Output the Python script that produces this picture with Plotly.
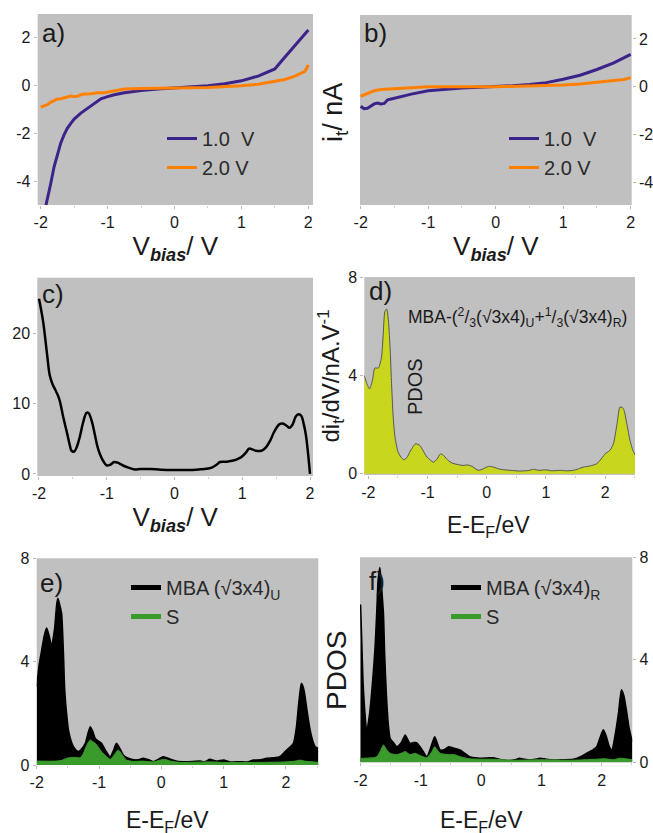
import plotly.graph_objects as go

# ---------------- data ----------------
# panel a: current vs bias
a_x_1v = [-2.0, -1.91, -1.85, -1.8, -1.75, -1.7, -1.65, -1.6, -1.55, -1.5, -1.4, -1.3, -1.2, -1.1, -1.0,
          -0.9, -0.75, -0.5, -0.25, 0.0, 0.25, 0.5, 0.75, 1.0, 1.25, 1.4, 1.5, 1.6, 1.75, 1.9, 2.0]
a_i_1v = [-6.0, -4.93, -4.1, -3.4, -2.85, -2.4, -2.05, -1.78, -1.58, -1.4, -1.15, -0.95, -0.72, -0.55, -0.46,
          -0.38, -0.3, -0.2, -0.14, -0.1, -0.06, -0.01, 0.08, 0.2, 0.4, 0.58, 0.7, 1.03, 1.52, 2.0, 2.33]
a_x_2v = [-2.0, -1.95, -1.9, -1.85, -1.8, -1.75, -1.7, -1.65, -1.6, -1.55, -1.5, -1.45, -1.4, -1.35, -1.25,
          -1.15, -1.05, -0.95, -0.85, -0.75, -0.5, -0.25, 0.0, 0.25, 0.5, 0.75, 1.0, 1.25, 1.5, 1.65, 1.8,
          1.9, 1.95, 2.0]
a_i_2v = [-0.9, -0.86, -0.8, -0.7, -0.62, -0.56, -0.55, -0.52, -0.47, -0.44, -0.46, -0.45, -0.38, -0.35, -0.34,
          -0.3, -0.3, -0.25, -0.17, -0.14, -0.12, -0.1, -0.1, -0.09, -0.08, -0.06, -0.01, 0.06, 0.17, 0.26, 0.4,
          0.54, 0.6, 0.87]

# panel b
b_x_1v = [-2.0, -1.95, -1.9, -1.85, -1.8, -1.75, -1.7, -1.65, -1.6, -1.5, -1.4, -1.25, -1.0, -0.75, -0.5,
          -0.25, 0.0, 0.25, 0.5, 0.75, 1.0, 1.25, 1.5, 1.75, 2.0]
b_i_1v = [-0.82, -0.92, -0.9, -0.8, -0.72, -0.68, -0.72, -0.7, -0.55, -0.48, -0.4, -0.31, -0.17, -0.1, -0.05,
          -0.02, 0.0, 0.04, 0.09, 0.17, 0.31, 0.48, 0.72, 1.0, 1.35]
b_x_2v = [-2.0, -1.9, -1.8, -1.7, -1.5, -1.25, -1.0, 0.0, 0.5, 1.0, 1.25, 1.5, 1.75, 1.9, 2.0]
b_i_2v = [-0.4, -0.27, -0.17, -0.12, -0.08, -0.02, 0.0, 0.0, 0.02, 0.07, 0.11, 0.17, 0.26, 0.3, 0.38]

# panel c: di/dV
c_x = [-2.0, -1.94, -1.88, -1.84, -1.8, -1.76, -1.72, -1.69, -1.64, -1.59, -1.55, -1.52, -1.48, -1.44, -1.4,
       -1.35, -1.3, -1.27, -1.22, -1.18, -1.14, -1.1, -1.05, -1.0, -0.95, -0.89, -0.84, -0.76, -0.68, -0.6,
       -0.5, -0.36, -0.2, 0.0, 0.2, 0.38, 0.47, 0.55, 0.62, 0.67, 0.77, 0.87, 0.95, 1.01, 1.06, 1.1, 1.15,
       1.2, 1.28, 1.35, 1.41, 1.46, 1.5, 1.55, 1.6, 1.65, 1.7, 1.74, 1.79, 1.83, 1.87, 1.91, 1.94, 1.97, 2.0]
c_didv = [25.0, 21.8, 17.0, 14.0, 12.8, 12.0, 11.2, 10.3, 8.0, 6.0, 4.3, 3.3, 3.2, 3.9, 5.2,
          7.3, 8.7, 8.7, 7.5, 5.8, 4.0, 2.8, 1.8, 1.2, 1.3, 1.7, 1.6, 1.2, 0.9, 0.65,
          0.7, 0.7, 0.6, 0.55, 0.55, 0.65, 0.72, 0.9, 1.3, 1.7, 1.75, 1.9, 2.2, 2.6, 3.1, 3.6, 3.5,
          3.3, 3.3, 3.8, 4.7, 5.8, 6.5, 7.1, 7.2, 6.9, 6.6, 7.0, 8.2, 8.5, 8.3, 7.0, 5.5, 3.0, 0.0]

# panel d: PDOS mixture
d_e = [-2.07, -2.03, -1.98, -1.93, -1.89, -1.83, -1.78, -1.75, -1.72, -1.69, -1.66, -1.63, -1.61, -1.58,
       -1.55, -1.5, -1.45, -1.4, -1.35, -1.3, -1.25, -1.2, -1.13, -1.07, -1.01, -0.95, -0.9, -0.84, -0.78,
       -0.73, -0.68, -0.6, -0.5, -0.4, -0.32, -0.25, -0.14, -0.06, 0.03, 0.1, 0.23, 0.4, 0.56, 0.7, 0.79,
       0.88, 1.0, 1.1, 1.24, 1.35, 1.46, 1.55, 1.63, 1.75, 1.86, 1.95, 2.0, 2.08, 2.14, 2.2, 2.25, 2.29,
       2.32, 2.37, 2.42, 2.47, 2.51]
d_pdos = [4.0, 3.7, 3.45, 3.8, 4.3, 4.3, 4.7, 5.6, 6.6, 6.7, 6.2, 5.0, 3.8, 2.3,
          1.5, 0.9, 0.68, 0.57, 0.65, 0.88, 1.08, 1.22, 1.15, 0.92, 0.68, 0.55, 0.47, 0.6, 0.81,
          0.75, 0.61, 0.45, 0.38, 0.34, 0.36, 0.3, 0.14, 0.2, 0.3, 0.28, 0.18, 0.14, 0.11, 0.13, 0.18,
          0.14, 0.16, 0.12, 0.14, 0.12, 0.14, 0.2, 0.27, 0.32, 0.41, 0.65, 0.81, 0.95, 1.22, 2.0, 2.71, 2.7,
          2.58, 2.0, 1.36, 0.95, 0.75]

# panel e: MBA (sqrt3x4)_U and S
e_e_mba = [-2.0, -1.96, -1.92, -1.88, -1.84, -1.8, -1.76, -1.73, -1.71, -1.68, -1.66, -1.63, -1.6, -1.57,
           -1.55, -1.52, -1.49, -1.45, -1.41, -1.37, -1.33, -1.28, -1.22, -1.18, -1.14, -1.1, -1.06, -1.01,
           -0.96, -0.89, -0.82, -0.77, -0.72, -0.66, -0.61, -0.55, -0.48, -0.38, -0.29, -0.2, -0.13, -0.05,
           0.03, 0.1, 0.25, 0.4, 0.62, 0.7, 0.78, 0.88, 1.0, 1.1, 1.26, 1.38, 1.48, 1.6, 1.69, 1.8, 1.9, 1.96,
           2.01, 2.07, 2.12, 2.17, 2.2, 2.23, 2.25, 2.28, 2.3, 2.34, 2.39, 2.43, 2.47, 2.52]
e_pdos_mba = [3.03, 3.9, 4.45, 5.0, 5.3, 5.0, 4.6, 5.0, 5.35, 6.2, 6.45, 6.2, 5.87, 4.3,
              2.9, 2.0, 1.35, 0.95, 0.71, 0.58, 0.52, 0.62, 0.84, 1.2, 1.48, 1.3, 1.03, 0.93,
              0.84, 0.55, 0.32, 0.55, 0.84, 0.62, 0.39, 0.28, 0.22, 0.2, 0.26, 0.2, 0.13, 0.22,
              0.32, 0.27, 0.15, 0.13, 0.15, 0.13, 0.22, 0.15, 0.19, 0.12, 0.13, 0.12, 0.19, 0.2, 0.26, 0.28, 0.32, 0.45,
              0.58, 0.7, 0.84, 1.5, 2.26, 2.9, 3.16, 3.0, 2.77, 2.1, 1.35, 0.95, 0.71, 0.65]
e_e_s = [-2.0, -1.7, -1.6, -1.52, -1.4, -1.3, -1.25, -1.2, -1.14, -1.1, -1.06, -1.0, -0.96, -0.89, -0.82,
         -0.76, -0.69, -0.63, -0.56, -0.45, -0.3, -0.13, 0.0, 0.05, 0.15, 0.3, 0.8, 1.0, 1.5, 2.0, 2.15,
         2.22, 2.3, 2.52]
e_pdos_s = [0.15, 0.15, 0.18, 0.26, 0.3, 0.28, 0.45, 0.75, 0.97, 0.9, 0.84, 0.65, 0.52, 0.35, 0.22,
            0.38, 0.58, 0.4, 0.19, 0.14, 0.15, 0.12, 0.2, 0.22, 0.15, 0.1, 0.12, 0.1, 0.1, 0.12, 0.15,
            0.19, 0.15, 0.1]

# panel f: MBA (sqrt3x4)_R and S
f_e_mba = [-2.0, -1.98, -1.96, -1.93, -1.9, -1.85, -1.8, -1.76, -1.73, -1.71, -1.68, -1.65, -1.62, -1.6,
           -1.57, -1.54, -1.51, -1.45, -1.4, -1.33, -1.26, -1.22, -1.18, -1.12, -1.07, -1.01, -0.96, -0.9,
           -0.84, -0.77, -0.72, -0.68, -0.61, -0.54, -0.45, -0.35, -0.27, -0.19, -0.1, -0.02, 0.1, 0.2, 0.3,
           0.37, 0.48, 0.56, 0.64, 0.72, 0.81, 0.9, 0.98, 1.08, 1.2, 1.35, 1.53, 1.65, 1.75, 1.85, 1.92, 1.98,
           2.03, 2.08, 2.13, 2.17, 2.22, 2.28, 2.33, 2.37, 2.42, 2.46, 2.51]
f_pdos_mba = [6.16, 4.7, 3.2, 2.0, 1.27, 1.92, 3.2, 4.5, 6.0, 7.1, 7.6, 6.8, 5.8, 4.2,
              2.57, 1.5, 0.94, 0.75, 0.61, 0.75, 1.07, 0.9, 0.74, 0.77, 0.77, 0.6, 0.42, 0.22,
              0.55, 1.0, 0.7, 0.48, 0.5, 0.61, 0.55, 0.48, 0.35, 0.22, 0.18, 0.16, 0.17, 0.18, 0.12,
              0.09, 0.07, 0.1, 0.16, 0.12, 0.09, 0.12, 0.16, 0.12, 0.09, 0.1, 0.12, 0.22, 0.35, 0.48, 0.61, 1.0,
              1.27, 1.0, 0.6, 0.48, 1.0, 1.92, 2.83, 2.6, 1.92, 1.3, 0.81]
f_e_s = [-2.0, -1.8, -1.73, -1.67, -1.62, -1.57, -1.51, -1.4, -1.3, -1.26, -1.18, -1.1, -1.0, -0.9, -0.82,
         -0.77, -0.72, -0.68, -0.55, -0.45, -0.35, -0.2, 0.0, 0.2, 0.5, 1.0, 1.5, 1.9, 2.05, 2.2, 2.3, 2.51]
f_pdos_s = [0.15, 0.18, 0.22, 0.45, 0.68, 0.5, 0.35, 0.3, 0.38, 0.42, 0.3, 0.35, 0.25, 0.18, 0.4,
            0.61, 0.45, 0.35, 0.3, 0.3, 0.22, 0.14, 0.12, 0.12, 0.08, 0.1, 0.08, 0.12, 0.14, 0.1, 0.16, 0.1]

# tick values / labels
iv_ticks = [-4, -2, 0, 2]
iv_labels = ["-4", "-2", "0", "2"]
bias_ticks = [-2, -1, 0, 1, 2]
bias_labels = ["-2", "-1", "0", "1", "2"]
didv_ticks = [0, 10, 20]
didv_labels = ["0", "10", "20"]
pdos_ticks = [0, 4, 8]
pdos_labels = ["0", "4", "8"]

# ---------------- styling / layout ----------------
W, H = 653, 833
FONT = "Liberation Sans, Arial, sans-serif"
TXT = "#1a1a1a"
BG = "#c0c0c0"
PURPLE = "#3c2389"
ORANGE = "#ff8000"
LIME = "#c8d61e"
GREEN = "#3a9a2c"


def px(x):
    return x / W


def py(y):
    return 1 - y / H


fig = go.Figure()

# a
fig.add_trace(go.Scatter(x=a_x_1v, y=a_i_1v, mode="lines", line=dict(color=PURPLE, width=3),
                         name="1.0  V", xaxis="x", yaxis="y", legend="legend"))
fig.add_trace(go.Scatter(x=a_x_2v, y=a_i_2v, mode="lines", line=dict(color=ORANGE, width=3),
                         name="2.0 V", xaxis="x", yaxis="y", legend="legend"))
# b
fig.add_trace(go.Scatter(x=b_x_1v, y=b_i_1v, mode="lines", line=dict(color=PURPLE, width=3),
                         name="1.0  V", xaxis="x2", yaxis="y2", legend="legend2"))
fig.add_trace(go.Scatter(x=b_x_2v, y=b_i_2v, mode="lines", line=dict(color=ORANGE, width=3),
                         name="2.0 V", xaxis="x2", yaxis="y2", legend="legend2"))
# c
fig.add_trace(go.Scatter(x=c_x, y=c_didv, mode="lines", line=dict(color="black", width=2.5, shape="spline"),
                         showlegend=False, xaxis="x3", yaxis="y3"))
# d
fig.add_trace(go.Scatter(x=d_e, y=d_pdos, mode="lines", fill="tozeroy", fillcolor=LIME,
                         line=dict(color="#555555", width=1, shape="spline", smoothing=0.6),
                         showlegend=False, xaxis="x4", yaxis="y4"))
# e
fig.add_trace(go.Scatter(x=e_e_mba, y=e_pdos_mba, mode="lines", fill="tozeroy", fillcolor="black",
                         line=dict(color="black", width=1.5, shape="spline", smoothing=0.6),
                         showlegend=False, xaxis="x5", yaxis="y5"))
fig.add_trace(go.Scatter(x=e_e_s, y=e_pdos_s, mode="lines", fill="tozeroy", fillcolor=GREEN,
                         line=dict(color=GREEN, width=1, shape="spline", smoothing=0.6),
                         showlegend=False, xaxis="x5", yaxis="y5"))
fig.add_trace(go.Scatter(x=[None], y=[None], mode="lines", line=dict(color="black", width=5),
                         name="MBA (√3x4)<sub>U</sub>", xaxis="x5", yaxis="y5", legend="legend3"))
fig.add_trace(go.Scatter(x=[None], y=[None], mode="lines", line=dict(color=GREEN, width=5),
                         name="S", xaxis="x5", yaxis="y5", legend="legend3"))
# f
fig.add_trace(go.Scatter(x=f_e_mba, y=f_pdos_mba, mode="lines", fill="tozeroy", fillcolor="black",
                         line=dict(color="black", width=1.5, shape="spline", smoothing=0.6),
                         showlegend=False, xaxis="x6", yaxis="y6"))
fig.add_trace(go.Scatter(x=f_e_s, y=f_pdos_s, mode="lines", fill="tozeroy", fillcolor=GREEN,
                         line=dict(color=GREEN, width=1, shape="spline", smoothing=0.6),
                         showlegend=False, xaxis="x6", yaxis="y6"))
fig.add_trace(go.Scatter(x=[None], y=[None], mode="lines", line=dict(color="black", width=5),
                         name="MBA (√3x4)<sub>R</sub>", xaxis="x6", yaxis="y6", legend="legend4"))
fig.add_trace(go.Scatter(x=[None], y=[None], mode="lines", line=dict(color=GREEN, width=5),
                         name="S", xaxis="x6", yaxis="y6", legend="legend4"))

tickfont = dict(family=FONT, size=16, color=TXT)


def xax(x0, x1, rng, anchor, title=None, standoff=4, tsize=26):
    d = dict(domain=[px(x0), px(x1)], range=rng, anchor=anchor, tickvals=bias_ticks, ticktext=bias_labels,
             automargin=False, showgrid=False, zeroline=False, showline=False, ticks="outside", ticklen=3,
             tickcolor="#b8b8b8", tickfont=tickfont,
             minor=dict(ticks="outside", ticklen=2, tickcolor="#d0d0d0", dtick=0.5, showgrid=False))
    if title:
        d["title"] = dict(text=title, font=dict(family=FONT, size=tsize, color=TXT), standoff=standoff)
    return d


def yax(y0, y1, rng, anchor, tickvals, ticktext, side="left", title=None):
    d = dict(domain=[py(y1), py(y0)], range=rng, anchor=anchor, tickvals=tickvals, ticktext=ticktext, side=side,
             automargin=False, showgrid=False, zeroline=False, showline=False, ticks="outside", ticklen=3,
             tickcolor="#b8b8b8", tickfont=tickfont)
    if title:
        d["title"] = title
    return d


VB = "V<sub><b><i>bias</i></b></sub>/ V"
EF = "E-E<sub>F</sub>/eV"

fig.update_layout(
    template="none",
    width=W, height=H, margin=dict(l=0, r=0, t=0, b=0, autoexpand=False),
    paper_bgcolor="white", plot_bgcolor=BG,
    font=dict(family=FONT, color=TXT),
    xaxis=xax(37.7, 313, [-2.045, 2.07], "y", VB, 4),
    yaxis=yax(14, 205, [-5, 3], "x", iv_ticks, iv_labels),
    xaxis2=xax(360, 631.7, [-2.01, 2.015], "y2", VB, 4),
    yaxis2=yax(15, 205, [-4.95, 3], "x2", iv_ticks, iv_labels, side="right"),
    xaxis3=xax(37.3, 313, [-2.025, 2.044], "y3", VB, 4),
    yaxis3=yax(277.7, 476, [-0.3, 28], "x3", didv_ticks, didv_labels),
    xaxis4=xax(364.3, 635, [-2.068, 2.505], "y4"),
    yaxis4=yax(277, 475, [-0.05, 8], "x4", pdos_ticks, pdos_labels,
               title=dict(text="di<sub>t</sub>/dV/nA.V<sup>-1</sup>", font=dict(family=FONT, size=24, color=TXT),
                          standoff=1)),
    xaxis5=xax(36.7, 318.3, [-2.0, 2.52], "y5"),
    yaxis5=yax(558.3, 765, [0, 8], "x5", pdos_ticks, pdos_labels),
    xaxis6=xax(360, 632.3, [-2.01, 2.51], "y6"),
    yaxis6=yax(557.3, 762.3, [0, 8], "x6", pdos_ticks, pdos_labels, side="right"),
)

legfont = dict(family=FONT, size=20, color="#2a2a2a")
leg_common = dict(bgcolor="rgba(0,0,0,0)", font=legfont, xanchor="left", yanchor="top",
                  tracegroupgap=0, itemwidth=30)
fig.update_layout(
    showlegend=True,
    legend=dict(x=px(162), y=py(119), **leg_common),
    legend2=dict(x=px(504), y=py(119), **leg_common),
    legend3=dict(x=px(126), y=py(568), **leg_common),
    legend4=dict(x=px(446), y=py(568), **leg_common),
)

ann = []


def label(text, x, y, size=26, anchor="left", **kw):
    ann.append(dict(text=text, x=px(x), y=py(y), xref="paper", yref="paper", showarrow=False,
                    font=dict(family=FONT, size=size, color=TXT), xanchor=anchor, yanchor="middle", **kw))


label("a)", 40, 33)
label("b)", 362, 33)
label("c)", 40, 294)
label("d)", 367, 291)
label("e)", 38, 583)
label("f)", 367, 581)
label("MBA-(<sup>2</sup>/<sub>3</sub>(√3x4)<sub>U</sub>+<sup>1</sup>/<sub>3</sub>(√3x4)<sub>R</sub>)", 406, 317, size=17.5)
# x-axis titles of d, e, f
label(EF, 488, 526, size=23, anchor="center")
label(EF, 167, 821, size=23, anchor="center")
label(EF, 481, 821, size=23, anchor="center")
ann.append(dict(text="PDOS", x=px(415), y=py(386), xref="paper", yref="paper", showarrow=False, textangle=-90,
                font=dict(family=FONT, size=20, color=TXT), xanchor="center", yanchor="middle"))
ann.append(dict(text="i<sub>t</sub>/ nA", x=px(335), y=py(113), xref="paper", yref="paper", showarrow=False,
                textangle=-90, font=dict(family=FONT, size=27, color=TXT), xanchor="center", yanchor="middle"))
ann.append(dict(text="PDOS", x=px(336), y=py(671), xref="paper", yref="paper", showarrow=False, textangle=-90,
                font=dict(family=FONT, size=28, color=TXT), xanchor="center", yanchor="middle"))
fig.update_layout(annotations=ann)

fig.write_html("out.html", config={"displayModeBar": False, "staticPlot": True},
               post_script="document.body.style.margin='0px';document.body.style.padding='0px';")
